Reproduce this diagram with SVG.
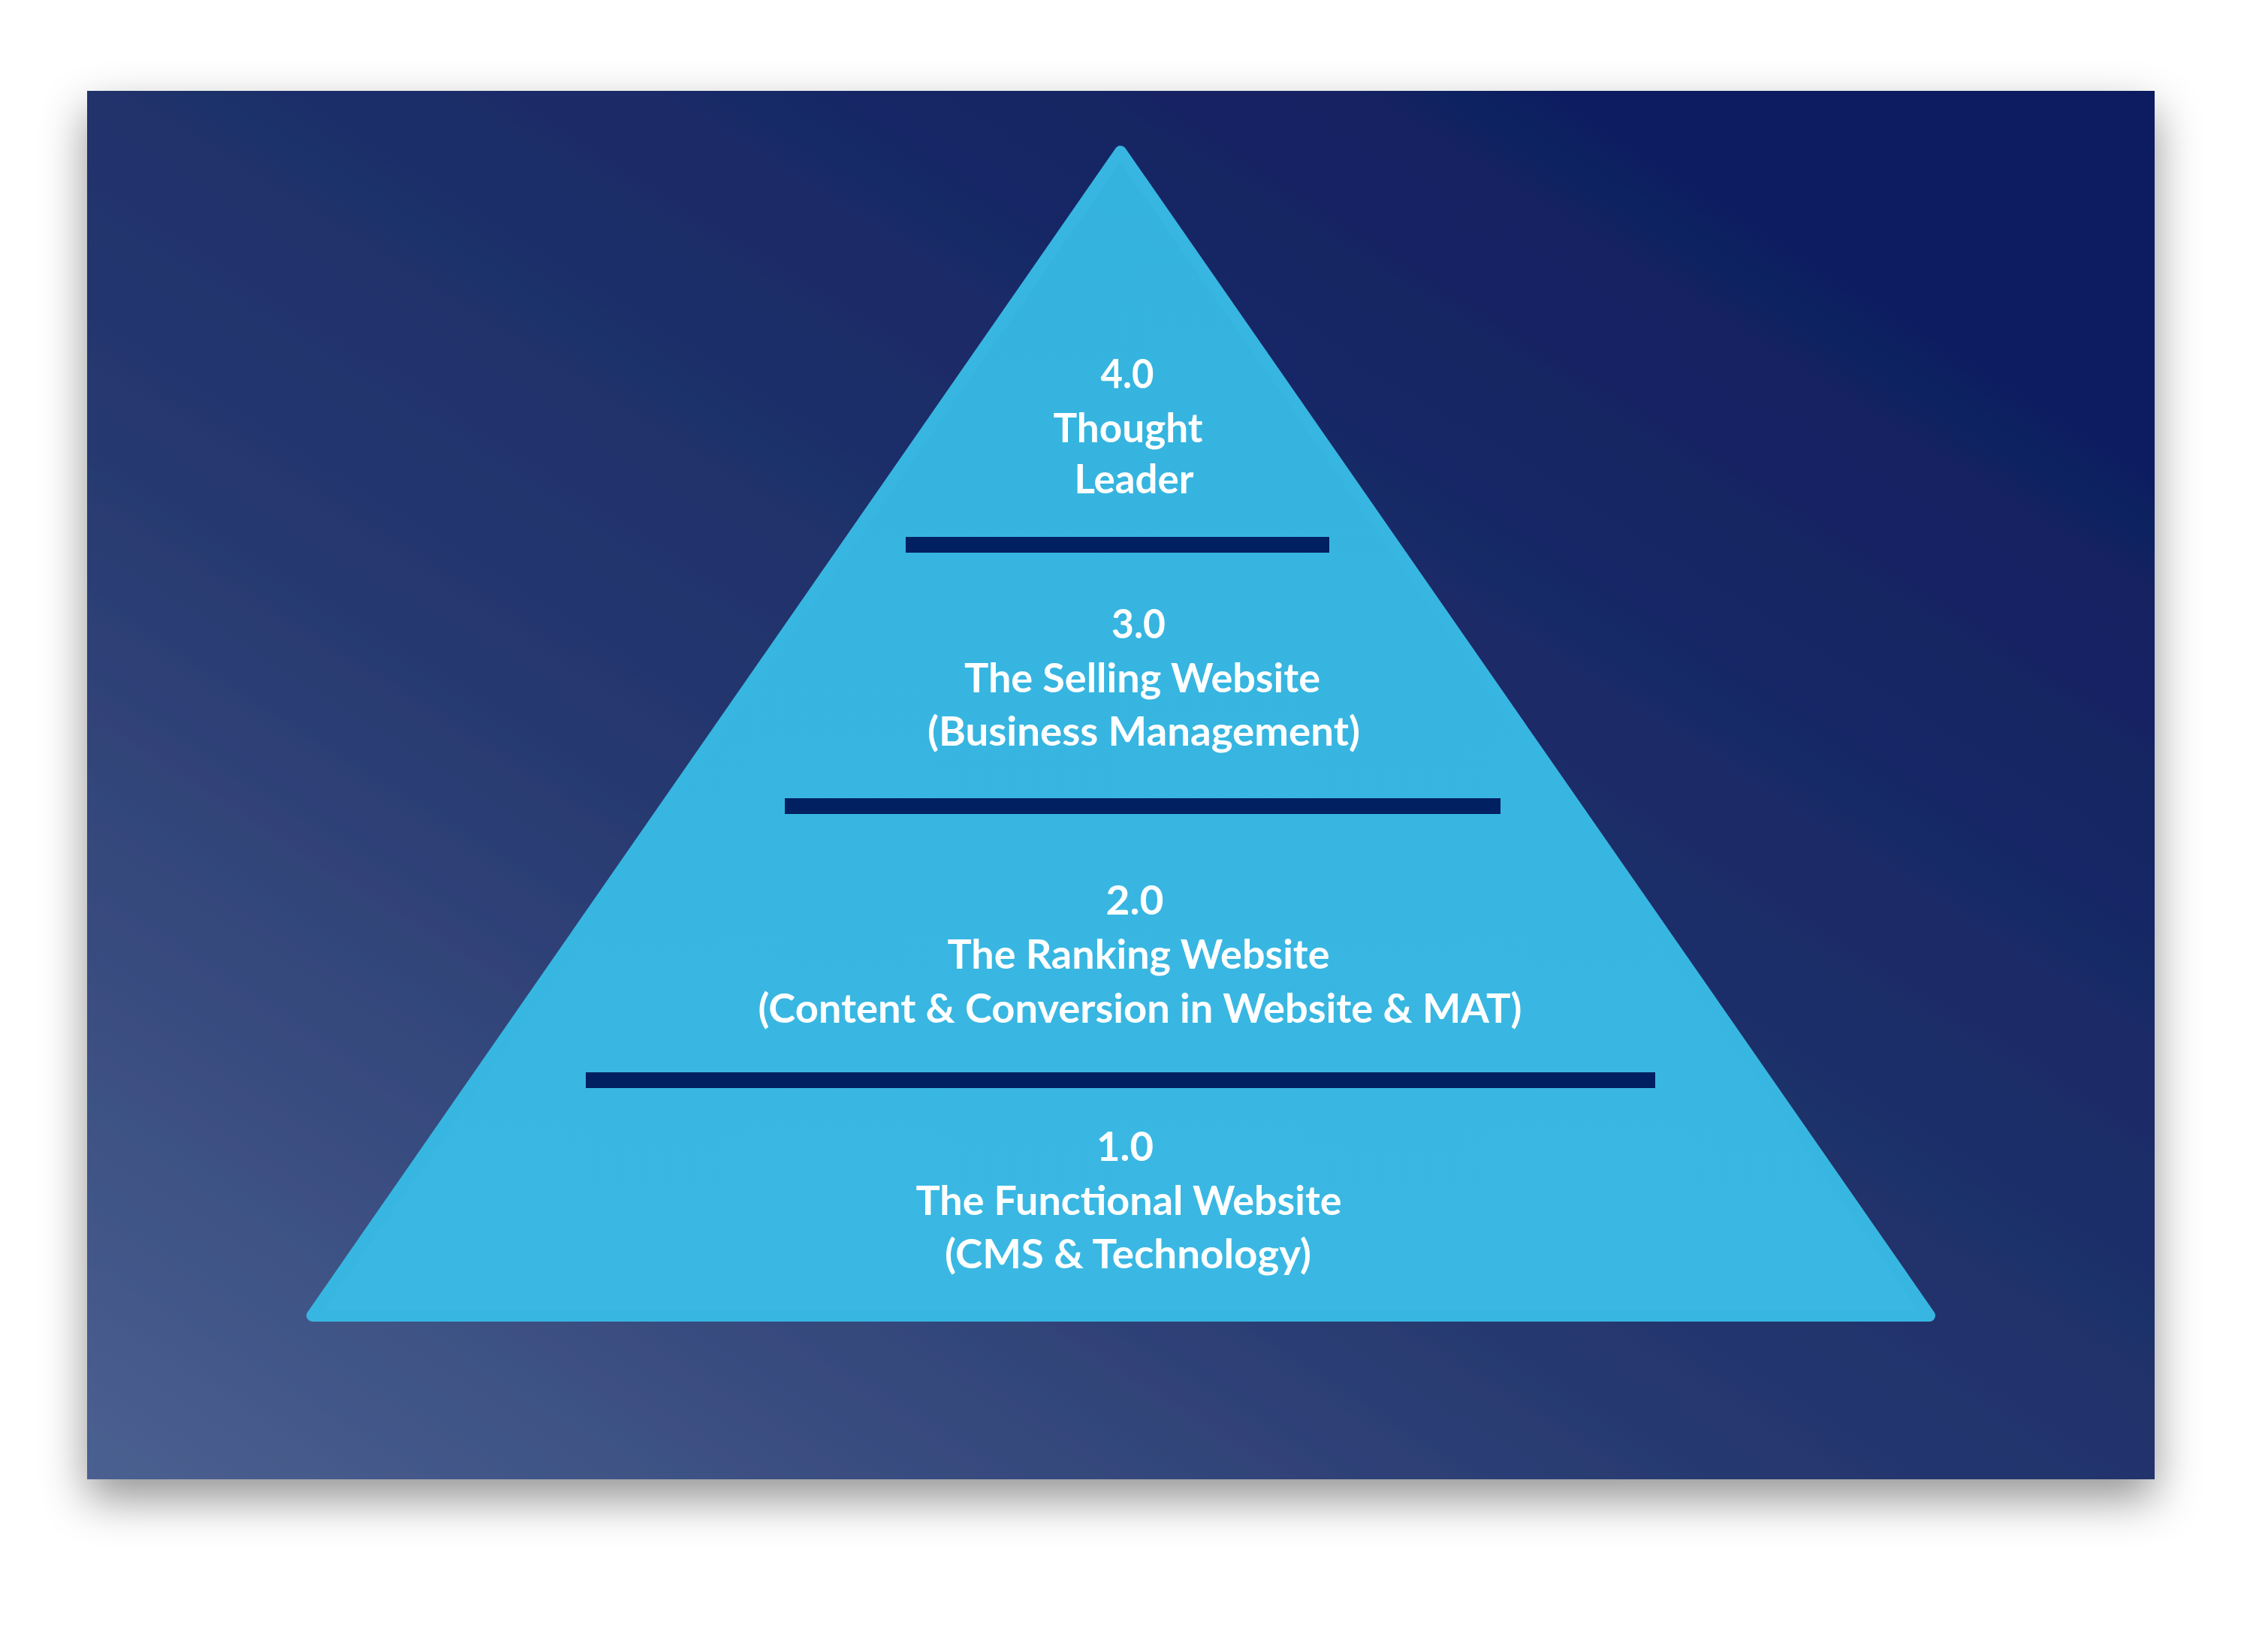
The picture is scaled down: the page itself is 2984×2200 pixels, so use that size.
<svg xmlns="http://www.w3.org/2000/svg" width="2984" height="2200" viewBox="0 0 2984 2200">
  <defs>
    <linearGradient id="bg" x1="0" y1="1" x2="0.85" y2="0.1" gradientUnits="objectBoundingBox">
      <stop offset="0" stop-color="#4B6090"/>
      <stop offset="0.45" stop-color="#26386F"/>
      <stop offset="1" stop-color="#0F1E60"/>
    </linearGradient>
    <linearGradient id="tri" x1="0" y1="0" x2="0" y2="1">
      <stop offset="0" stop-color="#34B3DE"/>
      <stop offset="1" stop-color="#3AB8E3"/>
    </linearGradient>
    <filter id="shadow" x="-10%" y="-10%" width="120%" height="125%">
      <feDropShadow dx="0" dy="26" stdDeviation="30" flood-color="#000" flood-opacity="0.42"/>
    </filter>
    <style>
      .bar { fill: #012061; }
      .lbl { font-family: Lato, "Liberation Sans", sans-serif; font-weight: bold; font-size: 54px; fill: #FFFFFF; text-anchor: middle; }
    </style>
  </defs>
  <rect width="2984" height="2200" fill="#FFFFFF"/>
  <rect id="panel" x="116" y="121" width="2753" height="1849" fill="url(#bg)" filter="url(#shadow)"/>
  <g id="pyramid">
    <polygon points="1492,202 416,1752 2569,1752" fill="url(#tri)" stroke="#37B6E1" stroke-width="16" stroke-linejoin="round"/>
  </g>
  <g id="dividers">
    <rect class="bar" x="1206" y="715" width="564" height="21"/>
    <rect class="bar" x="1045" y="1063" width="953" height="21"/>
    <rect class="bar" x="780" y="1428" width="1424" height="21"/>
  </g>
  <g id="level4">
    <text class="lbl" x="1501" y="517" textLength="71" lengthAdjust="spacingAndGlyphs">4.0</text>
    <text class="lbl" x="1502" y="589" textLength="199" lengthAdjust="spacingAndGlyphs">Thought</text>
    <text class="lbl" x="1510" y="657" textLength="159" lengthAdjust="spacingAndGlyphs">Leader</text>
  </g>
  <g id="level3">
    <text class="lbl" x="1516" y="850" textLength="72" lengthAdjust="spacingAndGlyphs">3.0</text>
    <text class="lbl" x="1521" y="922" textLength="474" lengthAdjust="spacingAndGlyphs">The Selling Website</text>
    <text class="lbl" x="1523" y="993" textLength="576" lengthAdjust="spacingAndGlyphs">(Business Management)</text>
  </g>
  <g id="level2">
    <text class="lbl" x="1511" y="1218" textLength="77" lengthAdjust="spacingAndGlyphs">2.0</text>
    <text class="lbl" x="1516" y="1290" textLength="509" lengthAdjust="spacingAndGlyphs">The Ranking Website</text>
    <text class="lbl" x="1518" y="1362" textLength="1017" lengthAdjust="spacingAndGlyphs">(Content &amp; Conversion in Website &amp; MAT)</text>
  </g>
  <g id="level1">
    <text class="lbl" x="1498" y="1546" textLength="76" lengthAdjust="spacingAndGlyphs">1.0</text>
    <text class="lbl" x="1503" y="1618" textLength="567" lengthAdjust="spacingAndGlyphs">The Functional Website</text>
    <text class="lbl" x="1502" y="1689" textLength="488" lengthAdjust="spacingAndGlyphs">(CMS &amp; Technology)</text>
  </g>
</svg>
